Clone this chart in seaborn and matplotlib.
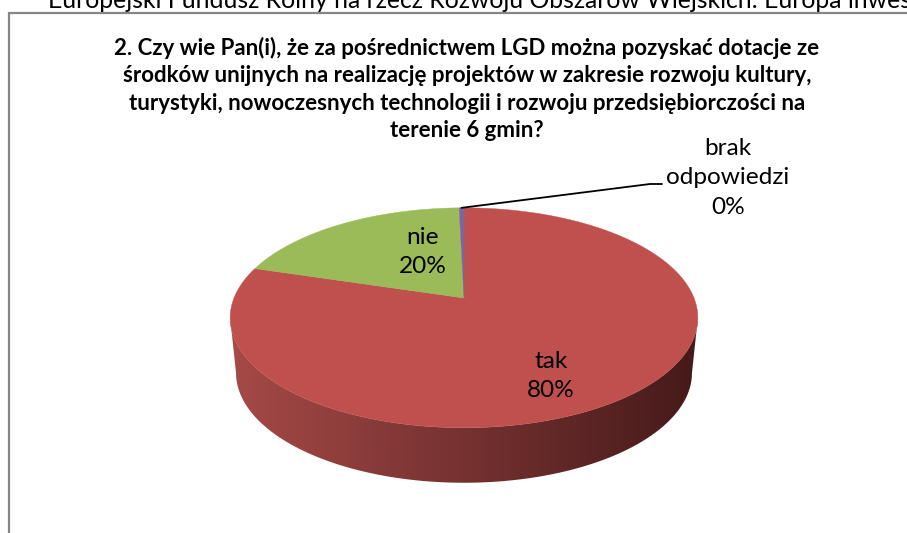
"""
3D pie chart: awareness of LGD grant funding (survey question 2).
"""

import numpy as np
import matplotlib.pyplot as plt
from matplotlib.patches import Polygon
import seaborn as sns

sns.set_theme(style="white")
plt.rcParams["font.family"] = ["Lato", "DejaVu Sans"]

# Data
categories = ["tak", "nie", "brak\nodpowiedzi"]
shares = [79.7, 19.9, 0.4]
palette = sns.color_palette(["#C0504D", "#9BBB59", "#8064A2"])

title = ("2. Czy wie Pan(i), że za pośrednictwem LGD można pozyskać dotacje ze\n"
         "środków unijnych na realizację projektów w zakresie rozwoju kultury,\n"
         "turystyki, nowoczesnych technologii i rozwoju przedsiębiorczości na\n"
         "terenie 6 gmin?")
header = ("Europejski Fundusz Rolny na rzecz Rozwoju Obszarów Wiejskich: "
          "Europa inwestująca w obszary wiejskie")

# Pie geometry (pixel space), mild perspective
CX, CY = 464, 298
A, B, K = 230, 106.4, 0.18
DEPTH = 55
BOTTOM_SCALE = 0.975


def project(theta, r=1.0, drop=0.0, xscale=1.0):
  t = np.radians(theta)
  u = r * np.sin(t)
  v = -r * np.cos(t)
  d = 1 - K * v
  return CX + xscale * A * u / d, CY + B * v / d + drop


fig = plt.figure(figsize=(9.07, 5.33), dpi=100)
ax = fig.add_axes([0, 0, 1, 1])
ax.set_xlim(0, 907)
ax.set_ylim(533, 0)
ax.axis("off")

# side of the pie (front half), shaded with a gradient
th = np.linspace(100.5, 259.5, 300)
tx, ty = project(th)
bx, by = project(th[::-1], drop=DEPTH, xscale=BOTTOM_SCALE)
side = Polygon(np.column_stack([np.r_[tx, bx], np.r_[ty, by]]),
               closed=True, facecolor="none", edgecolor="none")
ax.add_patch(side)
grad = np.linspace(0, 1, 256)
c0 = np.array([0.65, 0.29, 0.28])
c1 = np.array([0.27, 0.10, 0.10])
img = (c0[None, :] * (1 - grad[:, None]) + c1[None, :] * grad[:, None])[None]
im = ax.imshow(img, extent=[tx.min() - 2, tx.max() + 2, by.max() + 2, ty.min()],
               aspect="auto", interpolation="bilinear", zorder=1)
im.set_clip_path(side)

# top face slices, clockwise from 12 o'clock
edges = np.r_[0, np.cumsum(shares)] / np.sum(shares) * 360
for start, end, col in zip(edges[:-1], edges[1:], palette):
  arc = np.linspace(start, end, max(int(end - start) * 2, 4))
  px, py = project(arc)
  ax.add_patch(Polygon(np.column_stack([np.r_[CX, px], np.r_[CY, py]]),
                       closed=True, facecolor=col, edgecolor=col,
                       linewidth=0.3, zorder=2))

# labels
label_fs = 17.6
pcts = [f"{v:.0f}%" for v in shares]
label_xy = [(551, 376), (423, 252), (728, 178)]
for cat, pct, (lx, ly) in zip(categories, pcts, label_xy):
  ax.text(lx, ly, f"{cat}\n{pct}", ha="center", va="center",
          fontsize=label_fs, color="black", linespacing=1.52, zorder=5)

# leader line for the tiny slice
sx, sy = project((edges[2] + edges[3]) / 2)
ax.plot([sx, 650, 662], [sy, 184, 184], color="black", lw=1.3, zorder=4)

# title and header
ax.text(467, 89, title, ha="center", va="center", fontsize=16.0,
        fontweight="bold", linespacing=1.38, color="black")
ax.text(48, 8, header, ha="left", va="baseline", fontsize=17.8,
        color="black")

# chart frame
ax.plot([9, 9, 910], [540, 13, 13], color="#868686", lw=1.6,
        solid_joinstyle="miter", zorder=6)

fig.savefig("out.png", dpi=100)
